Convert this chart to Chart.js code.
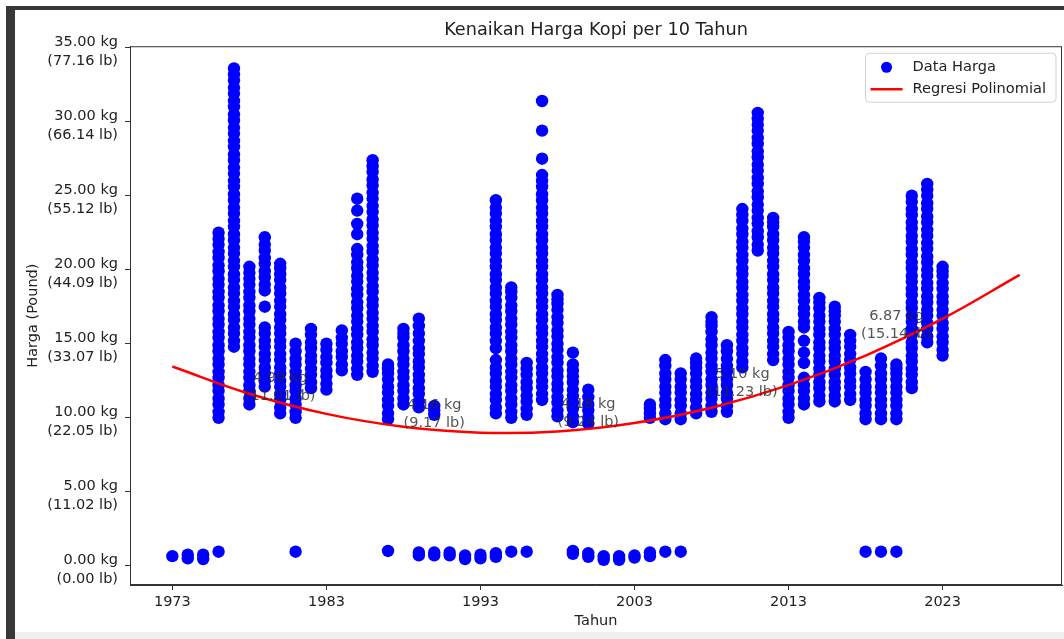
<!DOCTYPE html>
<html>
<head>
<meta charset="utf-8">
<script src="https://cdn.jsdelivr.net/npm/chart.js@4/dist/chart.umd.min.js"></script>
<style>
  body { margin: 0; background: #fff; }
  #frame { position: absolute; left: 6px; top: 6px; width: 1058px; height: 633px; box-sizing: border-box;
           border-left: 9px solid #383838; border-top: 4px solid #383838; background: #fff; }
  #strip { position: absolute; left: 15px; top: 632px; width: 1049px; height: 7px; background: #efefef; }
  #chartKopi { position: absolute; left: 0; top: 0; }
</style>
</head>
<body>
<div id="frame"></div>
<div id="strip"></div>
<canvas id="chartKopi" width="1064" height="639"></canvas>
<script>
// titik dekat nol
const bottomYears = [1973, 1974, 1975, 1976, 1981, 1987, 1989, 1990, 1991, 1992, 1993, 1994, 1995, 1996,
  1999, 2000, 2001, 2002, 2003, 2004, 2005, 2006, 2018, 2019, 2020];
const bottomPrices = [[0.65], [0.5, 0.75], [0.45, 0.75], [0.95], [0.95], [1.0], [0.7, 0.9], [0.7, 0.9], [0.7, 0.9],
  [0.45, 0.7], [0.5, 0.75], [0.6, 0.85], [0.95], [0.95], [0.8, 1.0], [0.6, 0.85], [0.4, 0.65], [0.4, 0.65],
  [0.55, 0.7], [0.65, 0.9], [0.95], [0.95], [0.95], [0.95], [0.95]];

// tumpukan harga per tahun
const stackYears = [1976, 1977, 1978, 1979, 1980, 1981, 1982, 1983, 1984, 1985, 1986, 1987, 1988, 1989, 1990,
  1994, 1995, 1996, 1997, 1998, 1999, 2000, 2004, 2005, 2006, 2007, 2008, 2009, 2010, 2011, 2012, 2013,
  2014, 2015, 2016, 2017, 2018, 2019, 2020, 2021, 2022, 2023];
const stackPrices = [
  [10.0, 10.4, 10.9, 11.3, 11.8, 12.2, 12.7, 13.1, 13.6, 14.0, 14.5, 14.9, 15.4, 15.8, 16.3, 16.7, 17.2, 17.6, 18.1, 18.5, 19.0, 19.4, 19.9, 20.3, 20.8, 21.2, 21.7, 22.1, 22.5],
  [14.8, 15.2, 15.7, 16.1, 16.6, 17.0, 17.5, 17.9, 18.4, 18.8, 19.3, 19.7, 20.2, 20.6, 21.1, 21.5, 22.0, 22.4, 22.9, 23.3, 23.8, 24.2, 24.7, 25.1, 25.6, 26.0, 26.5, 26.9, 27.4, 27.8, 28.3, 28.7, 29.2, 29.6, 30.1, 30.5, 31.0, 31.4, 31.9, 32.3, 32.8, 33.2, 33.6],
  [10.9, 11.3, 11.8, 12.2, 12.7, 13.1, 13.6, 14.0, 14.5, 14.9, 15.4, 15.8, 16.3, 16.7, 17.2, 17.6, 18.1, 18.5, 19.0, 19.4, 19.8, 20.2],
  [12.1, 12.5, 13.0, 13.4, 13.9, 14.3, 14.8, 15.2, 15.7, 16.1, 17.5, 18.6, 19.0, 19.5, 19.9, 20.4, 20.8, 21.3, 21.7, 22.2],
  [10.3, 10.7, 11.2, 11.6, 12.1, 12.5, 13.0, 13.4, 13.9, 14.3, 14.8, 15.2, 15.7, 16.1, 16.6, 17.0, 17.5, 17.9, 18.4, 18.8, 19.3, 19.7, 20.1, 20.4],
  [10.0, 10.4, 10.9, 11.3, 11.8, 12.2, 12.7, 13.1, 13.6, 14.0, 14.5, 15.0],
  [12.0, 12.4, 12.9, 13.3, 13.8, 14.2, 14.7, 15.1, 15.6, 16.0],
  [11.9, 12.3, 12.8, 13.2, 13.7, 14.1, 14.6, 15.0],
  [13.2, 13.6, 14.1, 14.5, 15.0, 15.4, 15.9],
  [12.9, 13.3, 13.8, 14.2, 14.7, 15.1, 15.6, 16.0, 16.5, 16.9, 17.4, 17.8, 18.3, 18.7, 19.2, 19.6, 20.1, 20.5, 21.0, 21.4, 22.4, 23.1, 24.0, 24.8],
  [13.1, 13.5, 14.0, 14.4, 14.9, 15.3, 15.8, 16.2, 16.7, 17.1, 17.6, 18.0, 18.5, 18.9, 19.4, 19.8, 20.3, 20.7, 21.2, 21.6, 22.1, 22.5, 23.0, 23.4, 23.9, 24.3, 24.8, 25.2, 25.7, 26.1, 26.6, 27.0, 27.4],
  [9.9, 10.3, 10.8, 11.2, 11.7, 12.1, 12.6, 13.0, 13.3, 13.6],
  [10.9, 11.3, 11.8, 12.2, 12.7, 13.1, 13.6, 14.0, 14.5, 14.9, 15.4, 15.7, 16.0],
  [10.7, 11.1, 11.6, 12.0, 12.5, 12.9, 13.4, 13.8, 14.3, 14.7, 15.2, 15.7, 16.2, 16.7],
  [10.2, 10.5, 10.8],
  [10.3, 10.7, 11.2, 11.6, 12.1, 12.5, 13.0, 13.4, 13.9, 14.7, 15.2, 15.7, 16.1, 16.6, 17.0, 17.5, 17.9, 18.4, 18.8, 19.3, 19.7, 20.2, 20.6, 21.1, 21.5, 22.0, 22.4, 22.9, 23.3, 23.8, 24.2, 24.7],
  [10.0, 10.4, 10.9, 11.3, 11.8, 12.2, 12.7, 13.1, 13.6, 14.0, 14.5, 14.9, 15.4, 15.8, 16.3, 16.7, 17.2, 17.6, 18.1, 18.5, 18.8],
  [10.2, 10.6, 11.1, 11.5, 12.0, 12.4, 12.9, 13.3, 13.7],
  [11.2, 11.6, 12.1, 12.5, 13.0, 13.4, 13.9, 14.3, 14.8, 15.2, 15.7, 16.1, 16.6, 17.0, 17.5, 17.9, 18.4, 18.8, 19.3, 19.7, 20.2, 20.6, 21.1, 21.5, 22.0, 22.4, 22.9, 23.3, 23.8, 24.2, 24.7, 25.1, 25.6, 26.0, 26.4, 27.5, 29.4, 31.4],
  [10.1, 10.5, 11.0, 11.4, 11.9, 12.3, 12.8, 13.2, 13.7, 14.1, 14.6, 15.0, 15.5, 15.9, 16.4, 16.8, 17.3, 17.7, 18.0, 18.3],
  [9.7, 10.1, 10.6, 11.0, 11.5, 11.9, 12.4, 12.8, 13.2, 13.6, 14.4],
  [9.6, 10.0, 10.5, 10.9, 11.4, 11.9],
  [10.0, 10.3, 10.6, 10.9],
  [9.9, 10.3, 10.8, 11.2, 11.7, 12.1, 12.6, 13.0, 13.5, 13.9],
  [9.9, 10.3, 10.8, 11.2, 11.7, 12.1, 12.6, 13.0],
  [10.3, 10.7, 11.2, 11.6, 12.1, 12.5, 13.0, 13.4, 13.7, 14.0],
  [10.4, 10.8, 11.3, 11.7, 12.2, 12.6, 13.1, 13.5, 14.0, 14.4, 14.9, 15.3, 15.8, 16.2, 16.5, 16.8],
  [10.4, 10.8, 11.3, 11.7, 12.2, 12.6, 13.1, 13.5, 14.0, 14.5, 14.9],
  [13.4, 13.8, 14.3, 14.7, 15.2, 15.6, 16.1, 16.5, 17.0, 17.4, 17.9, 18.3, 18.8, 19.2, 19.7, 20.1, 20.6, 21.0, 21.5, 21.9, 22.4, 22.8, 23.3, 23.7, 24.1],
  [21.3, 21.7, 22.2, 22.6, 23.1, 23.5, 24.0, 24.4, 24.9, 25.3, 25.8, 26.2, 26.7, 27.1, 27.6, 28.0, 28.5, 28.9, 29.4, 29.8, 30.2, 30.6],
  [13.9, 14.3, 14.8, 15.2, 15.7, 16.1, 16.6, 17.0, 17.5, 17.9, 18.4, 18.8, 19.3, 19.7, 20.2, 20.6, 21.1, 21.5, 22.0, 22.4, 22.9, 23.2, 23.5],
  [10.0, 10.4, 10.9, 11.3, 11.8, 12.2, 12.7, 13.1, 13.6, 14.0, 14.5, 14.9, 15.4, 15.8],
  [10.9, 11.3, 11.8, 12.2, 12.7, 13.7, 14.4, 15.2, 16.1, 16.5, 17.0, 17.4, 17.9, 18.3, 18.8, 19.2, 19.7, 20.1, 20.6, 21.0, 21.5, 21.9, 22.2],
  [11.1, 11.5, 12.0, 12.4, 12.9, 13.3, 13.8, 14.2, 14.7, 15.1, 15.6, 16.0, 16.5, 16.9, 17.4, 17.8, 18.1],
  [11.1, 11.5, 12.0, 12.4, 12.9, 13.3, 13.8, 14.2, 14.7, 15.1, 15.6, 16.0, 16.5, 16.9, 17.2, 17.5],
  [11.2, 11.6, 12.1, 12.5, 13.0, 13.4, 13.9, 14.3, 14.8, 15.2, 15.6],
  [9.9, 10.3, 10.8, 11.2, 11.7, 12.1, 12.6, 13.1],
  [9.9, 10.3, 10.8, 11.2, 11.7, 12.1, 12.6, 13.0, 13.5, 14.0],
  [9.9, 10.3, 10.8, 11.2, 11.7, 12.1, 12.6, 13.0, 13.3, 13.6],
  [12.0, 12.4, 12.9, 13.3, 13.8, 14.2, 14.7, 15.1, 15.6, 16.0, 16.5, 16.9, 17.4, 17.8, 18.3, 18.7, 19.2, 19.6, 20.1, 20.5, 21.0, 21.4, 21.9, 22.3, 22.8, 23.2, 23.7, 24.1, 24.6, 25.0],
  [15.1, 15.5, 16.0, 16.4, 16.9, 17.3, 17.8, 18.2, 18.7, 19.1, 19.6, 20.0, 20.5, 20.9, 21.4, 21.8, 22.3, 22.7, 23.2, 23.6, 24.1, 24.5, 25.0, 25.4, 25.8],
  [14.2, 14.6, 15.1, 15.5, 16.0, 16.4, 16.9, 17.3, 17.8, 18.2, 18.7, 19.1, 19.6, 19.9, 20.2],
];

// garis regresi
const regYears = [1973, 1978, 1983, 1988, 1993, 1998, 2003, 2008, 2013, 2018, 2023, 2028];
const regValues = [13.46, 11.62, 10.26, 9.39, 8.99, 9.07, 9.64, 10.68, 12.20, 14.20, 16.69, 19.65];

// anotasi per 10 tahun
const annYears = [1980, 1990, 2000, 2010, 2020];
const annKg = [4.99, 4.16, 4.18, 5.10, 6.87];
const annLb = [11.01, 9.17, 9.24, 11.23, 15.14];

const xTicks = [1973, 1983, 1993, 2003, 2013, 2023];
const yTicks = [0, 5, 10, 15, 20, 25, 30, 35];
const lbPerKg = 2.20462;

const pricePoints = [];
bottomYears.forEach((yr, i) => bottomPrices[i].forEach(v => pricePoints.push({ x: yr, y: v })));
stackYears.forEach((yr, i) => stackPrices[i].forEach(v => pricePoints.push({ x: yr, y: v })));
const regPoints = regYears.map((yr, i) => ({ x: yr, y: regValues[i] }));

const FONT = '"DejaVu Sans", Verdana, sans-serif';
Chart.defaults.font.family = FONT;
Chart.defaults.font.size = 14.5;
Chart.defaults.color = '#222';

const extras = {
  id: "extras",
  afterDatasetsDraw(chart) {
    const { ctx, scales } = chart;
    ctx.save();
    ctx.font = `14.5px ${FONT}`;
    ctx.fillStyle = "rgba(40, 40, 40, 0.8)";
    ctx.textAlign = "center";
    ctx.textBaseline = "middle";
    annYears.forEach((yr, i) => {
      const px = scales.x.getPixelForValue(yr);
      const py = scales.y.getPixelForValue(annLb[i]);
      ctx.fillText(`${annKg[i].toFixed(2)} kg`, px, py - 25);
      ctx.fillText(`(${annLb[i].toFixed(2)} lb)`, px, py - 7);
    });
    ctx.restore();
  },
  afterDraw(chart) {
    const { ctx, chartArea: a } = chart;
    ctx.save();
    ctx.strokeStyle = "#333";
    ctx.lineWidth = 1;
    ctx.strokeRect(a.left + 0.5, a.top + 0.5, a.width - 1, a.height - 1);

    // legenda
    ctx.font = `14.6px ${FONT}`;
    const labels = ["Data Harga", "Regresi Polinomial"];
    const tw = Math.max(...labels.map(t => ctx.measureText(t).width));
    const w = 47 + tw + 10, h = 49;
    const bx = a.right - 6 - w, by = a.top + 7;
    ctx.fillStyle = "rgba(255,255,255,0.85)";
    ctx.strokeStyle = "#d0d0d0";
    ctx.beginPath();
    ctx.roundRect(bx, by, w, h, 4);
    ctx.fill();
    ctx.stroke();
    ctx.fillStyle = "blue";
    ctx.beginPath();
    ctx.arc(bx + 21, by + 14, 5.5, 0, Math.PI * 2);
    ctx.fill();
    ctx.strokeStyle = "red";
    ctx.lineWidth = 2.5;
    ctx.beginPath();
    ctx.moveTo(bx + 5, by + 36);
    ctx.lineTo(bx + 37, by + 36);
    ctx.stroke();
    ctx.fillStyle = "#222";
    ctx.textBaseline = "middle";
    ctx.fillText(labels[0], bx + 47, by + 14);
    ctx.fillText(labels[1], bx + 47, by + 36);
    ctx.restore();
  },
};

new Chart(document.querySelector("#chartKopi"), {
  type: "scatter",
  data: {
    datasets: [
      {
        label: "Regresi Polinomial",
        type: "line",
        data: regPoints,
        borderColor: "red",
        borderWidth: 2.5,
        pointRadius: 0,
        tension: 0.4,
        fill: false,
        order: 0,
      },
      {
        label: "Data Harga",
        data: pricePoints,
        backgroundColor: "blue",
        borderColor: "blue",
        borderWidth: 0,
        pointRadius: 6.2,
        order: 1,
      },
    ],
  },
  options: {
    responsive: false,
    animation: false,
    events: [],
    layout: { autoPadding: false, padding: { left: 15, top: 5, right: 2, bottom: 7 } },
    scales: {
      x: {
        type: "linear",
        min: 1970.25,
        max: 2030.75,
        afterBuildTicks: (s) => { s.ticks = xTicks.map(v => ({ value: v })); },
        afterFit: (s) => { s.height = 47; s.paddingLeft = 0; s.paddingRight = 0; },
        ticks: { callback: (v) => String(v), padding: 4, maxRotation: 0, autoSkip: false },
        grid: { drawOnChartArea: false, tickLength: 5, color: "#333" },
        border: { color: "#333" },
        title: { display: true, text: "Tahun", padding: { top: 0, bottom: 1.6 } },
      },
      y: {
        min: -1.3,
        max: 35.1,
        afterBuildTicks: (s) => { s.ticks = yTicks.map(v => ({ value: v })); },
        afterFit: (s) => { s.width = 115; },
        ticks: {
          callback: (v) => [`${v.toFixed(2)} kg`, `(${(v * lbPerKg).toFixed(2)} lb)`],
          padding: 7,
          labelOffset: 4,
          font: { lineHeight: 1.25 },
        },
        grid: { drawOnChartArea: false, tickLength: 5, color: "#333" },
        border: { color: "#333" },
        title: { display: true, text: "Harga (Pound)", padding: { top: 9.6, bottom: 0 } },
      },
    },
    plugins: {
      legend: { display: false },
      tooltip: { enabled: false },
      title: {
        display: true,
        fullSize: false,
        text: "Kenaikan Harga Kopi per 10 Tahun",
        font: { size: 17.7, weight: "normal" },
        color: "#222",
        padding: { top: 15, bottom: 5 },
      },
    },
  },
  plugins: [extras],
});
</script>
</body>
</html>
